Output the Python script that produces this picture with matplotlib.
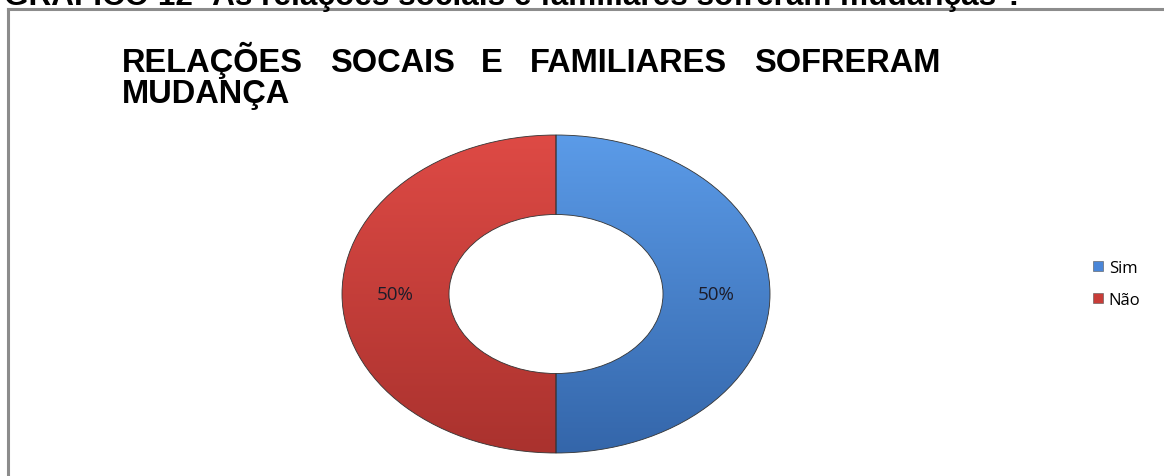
import numpy as np
import matplotlib
matplotlib.use("Agg")
from matplotlib import pyplot as plt
from matplotlib.lines import Line2D
from matplotlib.patches import Patch

# data
labels = ["Sim", "Não"]
values = [50, 50]
colors_top = ["#5b9be8", "#de4a45"]
colors_bottom = ["#3466aa", "#aa322e"]
legend_colors = ["#4a86d8", "#c83c38"]

heading = "GRÁFICO 12 -As relações sociais e familiares sofreram mudanças ?"
title_words = ["RELAÇÕES", "SOCAIS", "E", "FAMILIARES", "SOFRERAM"]
title_line2 = "MUDANÇA"

W, H = 1164, 477
fig = plt.figure(figsize=(W / 100, H / 100), dpi=100)
fig.patch.set_facecolor("white")


def px(x, y):
    return x / W, 1 - y / H


# page heading, partly above the top edge
hx, hy = px(4, 5)
head = fig.text(hx, hy, heading, fontsize=20, fontweight="bold",
                family="Liberation Sans", va="baseline", ha="left")
fig.canvas.draw()
bb = head.get_window_extent()
head.set_fontsize(20 * (1018 / bb.width))

# chart frame (top and left sides only are visible)
x0, y0 = px(8, 10)
fig.add_artist(Line2D([x0, 1.01], [y0, y0], color="#8c8c8c", lw=2.2,
                      transform=fig.transFigure))
fig.add_artist(Line2D([x0, x0], [y0, -0.01], color="#8c8c8c", lw=2.2,
                      transform=fig.transFigure))

# chart title, first line spread between x=122 and x=940
tsize = 23.5
renderer = fig.canvas.get_renderer()
word_txt = []
for w in title_words:
    t = fig.text(0, px(0, 72)[1], w, fontsize=tsize, fontweight="bold",
                 family="Liberation Sans", va="baseline", ha="left")
    word_txt.append(t)
widths = [t.get_window_extent(renderer).width for t in word_txt]
left, right = 122, 940
gap = (right - left - sum(widths)) / (len(widths) - 1)
xpos = left
for t, wd in zip(word_txt, widths):
    t.set_x(xpos / W)
    xpos += wd + gap
fig.text(px(122, 0)[0], px(0, 103)[1], title_line2, fontsize=tsize, fontweight="bold",
         family="Liberation Sans", va="baseline", ha="left")

# donut axes sized to the ellipse
cx, cy, rx, ry = 556, 295, 214, 159
ax = fig.add_axes([(cx - rx) / W, 1 - (cy + ry) / H, 2 * rx / W, 2 * ry / H])
wedges, texts, autotexts = ax.pie(
    values, labels=None, startangle=90, counterclock=False,
    colors=legend_colors, autopct="%1.0f%%", pctdistance=0.75,
    wedgeprops=dict(width=0.5, edgecolor="#333333", linewidth=0.6),
    textprops=dict(fontsize=13.5, family="Open Sans", color="#1c1c2a"))
ax.set_aspect("auto")
ax.axis("off")

# vertical shading on each ring half
grad = np.linspace(0, 1, 256).reshape(-1, 1)
for w, ct, cb in zip(wedges, colors_top, colors_bottom):
    c1 = np.array(matplotlib.colors.to_rgb(ct))
    c2 = np.array(matplotlib.colors.to_rgb(cb))
    img = c1[None, None, :] * (1 - grad[:, :, None]) + c2[None, None, :] * grad[:, :, None]
    im = ax.imshow(img, extent=[-1, 1, -1, 1], origin="upper", aspect="auto",
                   zorder=w.get_zorder() + 0.1, interpolation="bilinear")
    im.set_clip_path(w)
    w.set_facecolor("none")
    w.set_zorder(w.get_zorder() + 0.2)
for t in autotexts:
    t.set_zorder(5)
ax.set_xlim(-1, 1)
ax.set_ylim(-1, 1)

# legend
handles = [Patch(facecolor=c, edgecolor="#555555", linewidth=0.4) for c in legend_colors]
lx, ly = px(1078, 246)
fig.legend(handles, labels, loc="upper left", bbox_to_anchor=(lx, ly),
           frameon=False, handlelength=0.6, handleheight=0.6, handletextpad=0.35,
           labelspacing=0.95, prop=dict(family="Open Sans", size=12))

fig.savefig("out.png", dpi=100, facecolor="white")
